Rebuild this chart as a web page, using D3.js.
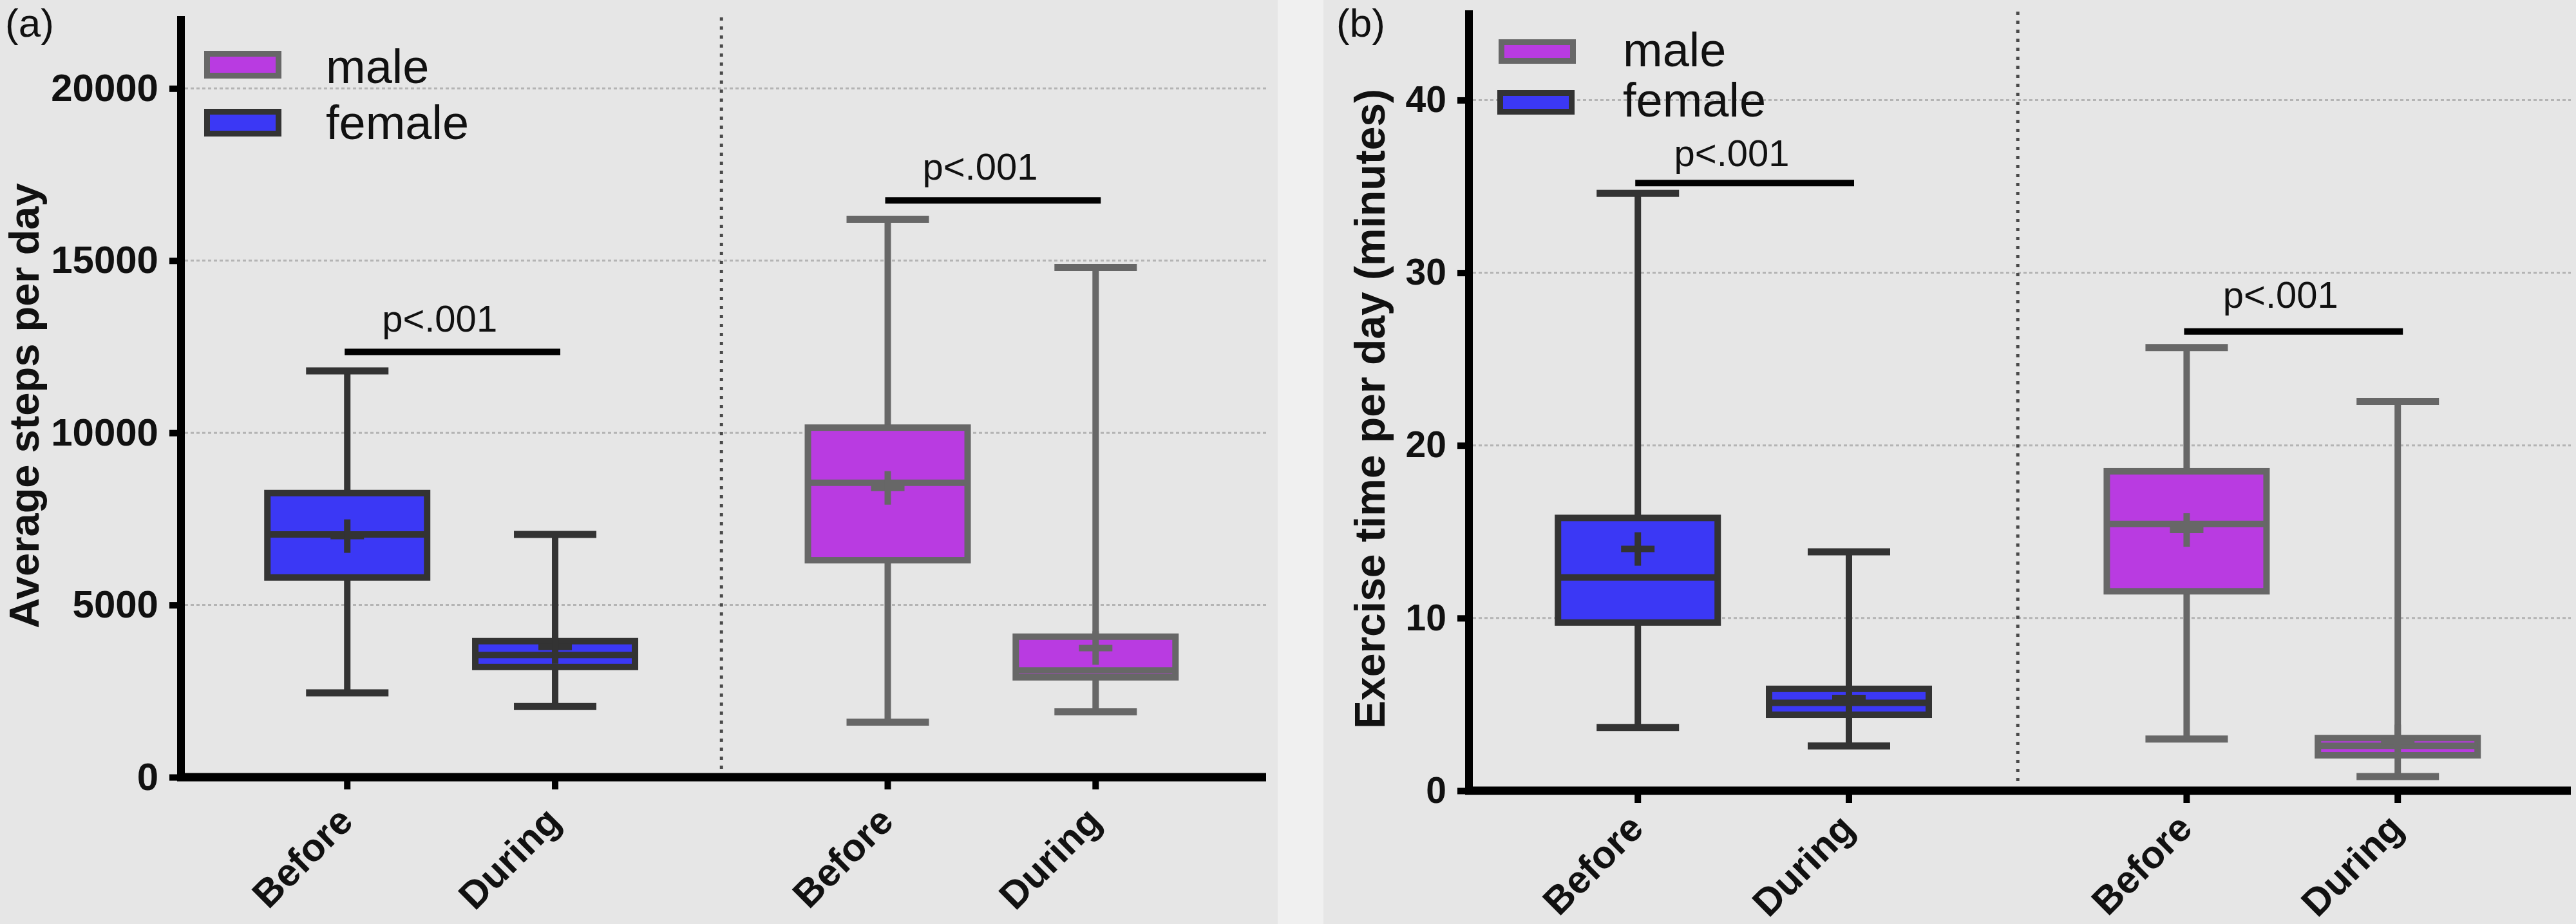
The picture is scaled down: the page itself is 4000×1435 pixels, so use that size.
<!DOCTYPE html>
<html>
<head>
<meta charset="utf-8">
<script src="https://cdn.jsdelivr.net/npm/d3@7"></script>
<style>
  html, body { margin: 0; padding: 0; background: #f0f0f0; }
  svg { display: block; }
  text { font-family: "Liberation Sans", Arial, Helvetica, sans-serif; }
</style>
</head>
<body>
<svg id="chart" width="4000" height="1435"></svg>
<script>
// ---------- data ----------
const periods = ["Before", "During", "Before", "During"];
const sexes   = ["female", "female", "male", "male"];
const legendNames = ["male", "female"];

// (a) Average steps per day
const stepsMin    = [2450, 2050, 1600, 1900];
const stepsQ1     = [5800, 3200, 6300, 2900];
const stepsMedian = [7050, 3550, 8550, 3100];
const stepsMean   = [7000, 3780, 8400, 3750];
const stepsQ3     = [8250, 3950, 10150, 4080];
const stepsMax    = [11800, 7050, 16200, 14800];
const stepsTicks  = [0, 5000, 10000, 15000, 20000];
const stepsPBar   = [12350, 16750];

// (b) Exercise time per day (minutes)
const exMin    = [3.66, 2.59, 2.99, 0.82];
const exQ1     = [9.74, 4.4, 11.55, 2.05];
const exMedian = [12.35, 5.09, 15.45, 2.6];
const exMean   = [14.0, 5.37, 15.1, 2.85];
const exQ3     = [15.8, 5.9, 18.5, 3.05];
const exMax    = [34.6, 13.84, 25.67, 22.54];
const exTicks  = [0, 10, 20, 30, 40];
const exPBar   = [35.2, 26.6];

const pLabels = ["p<.001", "p<.001"];

// ---------- style ----------
const fillColor   = { female: "#3b38f5", male: "#b93be1" };
const strokeColor = { female: "#333333", male: "#676767" };

const svg = d3.select("#chart");

// backgrounds
svg.append("rect").attr("x", 0).attr("y", 0).attr("width", 4000).attr("height", 1435).attr("fill", "#f0f0f0");
svg.append("rect").attr("x", 0).attr("y", 0).attr("width", 1984).attr("height", 1435).attr("fill", "#e6e6e6");
svg.append("rect").attr("x", 2055).attr("y", 0).attr("width", 1945).attr("height", 1435).attr("fill", "#e6e6e6");

function drawPanel(cfg) {
  const g = svg.append("g");
  const x = d3.scaleLinear().domain([0, 5.22]).range([cfg.x0, cfg.x1]);
  const y = d3.scaleLinear().domain([0, cfg.yMax]).range([cfg.yBottom, cfg.yTop]);
  const slot = i => (sexes[i] === "female" ? 0 : 2.6) + (periods[i] === "Before" ? 0 : 1) + 0.8;

  // gridlines
  g.selectAll(".grid").data(cfg.ticks.filter(t => t > 0)).join("line")
    .attr("x1", cfg.x0 + 6).attr("x2", cfg.x1)
    .attr("y1", d => y(d)).attr("y2", d => y(d))
    .attr("stroke", "#b4b4b4").attr("stroke-width", 3).attr("stroke-dasharray", "5,4");

  // divider
  g.append("line")
    .attr("x1", x(2.6)).attr("x2", x(2.6))
    .attr("y1", cfg.yTop + 2).attr("y2", cfg.yBottom - 12)
    .attr("stroke", "#4a4a4a").attr("stroke-width", 5).attr("stroke-dasharray", "5,9");

  // y axis
  const yAxis = d3.axisLeft(y).tickValues(cfg.ticks).tickSize(18).tickPadding(17).tickFormat(d3.format("d"));
  const ya = g.append("g").attr("transform", `translate(${cfg.x0},0)`).call(yAxis);
  ya.select(".domain").remove();
  ya.selectAll(".tick line").attr("stroke", "#000").attr("stroke-width", 10);
  ya.selectAll(".tick text").attr("font-size", cfg.tickFont).attr("font-weight", "bold")
    .attr("fill", "#111").attr("font-family", "Liberation Sans, Arial, sans-serif");
  g.append("line").attr("x1", cfg.x0).attr("x2", cfg.x0)
    .attr("y1", cfg.yTop).attr("y2", cfg.yBottom + 6)
    .attr("stroke", "#000").attr("stroke-width", 12);

  // x axis
  g.append("line").attr("x1", cfg.x0 - 6).attr("x2", cfg.x1)
    .attr("y1", cfg.yBottom).attr("y2", cfg.yBottom)
    .attr("stroke", "#000").attr("stroke-width", 13);
  const idx = d3.range(periods.length);
  g.selectAll(".xt").data(idx).join("line")
    .attr("x1", i => x(slot(i))).attr("x2", i => x(slot(i)))
    .attr("y1", cfg.yBottom).attr("y2", cfg.yBottom + 19)
    .attr("stroke", "#000").attr("stroke-width", 10);
  g.selectAll(".xl").data(idx).join("text")
    .attr("transform", i => `translate(${x(slot(i)) + 12},${cfg.yBottom + cfg.labelDy}) rotate(-45)`)
    .attr("text-anchor", "end").attr("font-size", 60).attr("font-weight", "bold").attr("fill", "#111")
    .text(i => periods[i]);

  // boxes
  const bw = 124, cw = 64, sw = 10;
  idx.forEach(i => {
    const cx = x(slot(i));
    const sc = strokeColor[sexes[i]];
    const bg = g.append("g");
    // whiskers
    bg.append("line").attr("x1", cx).attr("x2", cx).attr("y1", y(cfg.q3[i])).attr("y2", y(cfg.max[i]))
      .attr("stroke", sc).attr("stroke-width", sw);
    bg.append("line").attr("x1", cx).attr("x2", cx).attr("y1", y(cfg.q1[i])).attr("y2", y(cfg.min[i]))
      .attr("stroke", sc).attr("stroke-width", sw);
    // caps
    [cfg.max[i], cfg.min[i]].forEach(v => {
      bg.append("line").attr("x1", cx - cw).attr("x2", cx + cw).attr("y1", y(v)).attr("y2", y(v))
        .attr("stroke", sc).attr("stroke-width", sw + 1);
    });
    // box
    bg.append("rect").attr("x", cx - bw).attr("width", 2 * bw)
      .attr("y", y(cfg.q3[i])).attr("height", y(cfg.q1[i]) - y(cfg.q3[i]))
      .attr("fill", fillColor[sexes[i]]).attr("stroke", sc).attr("stroke-width", sw);
    // median
    bg.append("line").attr("x1", cx - bw).attr("x2", cx + bw)
      .attr("y1", y(cfg.median[i])).attr("y2", y(cfg.median[i]))
      .attr("stroke", sc).attr("stroke-width", sw);
    // mean cross
    const my = y(cfg.mean[i]);
    bg.append("line").attr("x1", cx - 26).attr("x2", cx + 26).attr("y1", my).attr("y2", my)
      .attr("stroke", sc).attr("stroke-width", sw);
    bg.append("line").attr("x1", cx).attr("x2", cx).attr("y1", my - 26).attr("y2", my + 26)
      .attr("stroke", sc).attr("stroke-width", sw);
  });

  // significance bars
  [[0, 1], [2, 3]].forEach((pair, k) => {
    const xa = x(slot(pair[0])) - 4, xb = x(slot(pair[1])) + 8;
    const yy = y(cfg.pbar[k]);
    g.append("line").attr("x1", xa).attr("x2", xb).attr("y1", yy).attr("y2", yy)
      .attr("stroke", "#000").attr("stroke-width", 10);
    g.append("text").attr("x", (xa + xb) / 2 - 20).attr("y", yy - cfg.pGap[k])
      .attr("text-anchor", "middle").attr("font-size", 58).attr("fill", "#111")
      .text(pLabels[k]);
  });

  // legend
  legendNames.forEach((name, k) => {
    const L = cfg.legend[k];
    g.append("rect").attr("x", L.x + 4.5).attr("y", L.y + 4.5).attr("width", 111).attr("height", L.h - 9)
      .attr("fill", fillColor[name]).attr("stroke", strokeColor[name]).attr("stroke-width", 9);
    g.append("text").attr("x", L.tx).attr("y", L.ty).attr("font-size", 74).attr("fill", "#111").text(name);
  });

  // y title
  g.append("text").attr("transform", `translate(${cfg.titleX},${cfg.titleY}) rotate(-90)`)
    .attr("text-anchor", "middle").attr("font-size", cfg.titleFont).attr("font-weight", "bold").attr("fill", "#111")
    .style("font-family", cfg.titleFamily)
    .text(cfg.title);

  // panel label
  g.append("text").attr("x", cfg.labelX).attr("y", 57).attr("font-size", 62).attr("fill", "#111").text(cfg.label);
}

drawPanel({
  x0: 281, x1: 1966, yTop: 25, yBottom: 1207, yMax: 22100,
  ticks: stepsTicks, tickFont: 60, labelDy: 72,
  min: stepsMin, q1: stepsQ1, median: stepsMedian, mean: stepsMean, q3: stepsQ3, max: stepsMax,
  pbar: stepsPBar, pGap: [31, 32],
  legend: [{ x: 317, y: 79, h: 43, tx: 506, ty: 129 }, { x: 317, y: 169, h: 43, tx: 506, ty: 216 }],
  title: "Average steps per day", titleX: 60, titleY: 630, titleFont: 65,
  titleFamily: "'Liberation Sans', Arial, sans-serif",
  label: "(a)", labelX: 8
});

drawPanel({
  x0: 2281, x1: 3992, yTop: 16, yBottom: 1228, yMax: 45.2,
  ticks: exTicks, tickFont: 57, labelDy: 62,
  min: exMin, q1: exQ1, median: exMedian, mean: exMean, q3: exQ3, max: exMax,
  pbar: exPBar, pGap: [26, 37],
  legend: [{ x: 2327, y: 61, h: 38, tx: 2520, ty: 103 }, { x: 2325, y: 140, h: 38, tx: 2520, ty: 181 }],
  title: "Exercise time per day (minutes)", titleX: 2150, titleY: 635, titleFont: 66,
  titleFamily: "'Liberation Sans Narrow', 'Arial Narrow', sans-serif",
  label: "(b)", labelX: 2075
});
</script>
</body>
</html>
